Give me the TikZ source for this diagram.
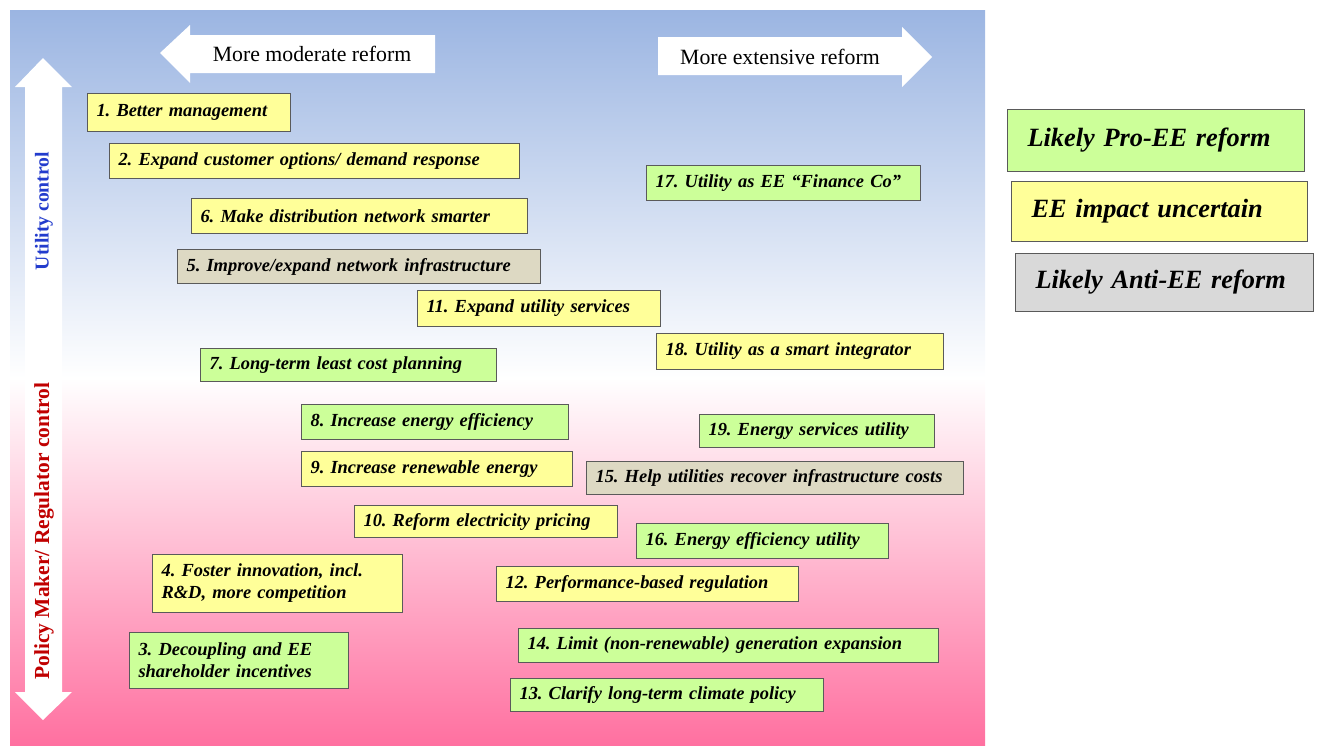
\documentclass[tikz,border=0pt]{standalone}
\usepackage{fontspec}
\setmainfont{Liberation Serif}
\usetikzlibrary{positioning}
\frenchspacing

\definecolor{skyBlue}{RGB}{155,181,226}
\definecolor{rosePink}{RGB}{255,112,160}
\definecolor{proGreen}{RGB}{204,255,153}
\definecolor{unsureYellow}{RGB}{255,255,153}
\definecolor{infraGray}{RGB}{221,217,195}
\definecolor{antiGray}{RGB}{217,217,217}
\definecolor{boxLine}{RGB}{90,90,90}
\definecolor{utilBlue}{RGB}{35,60,205}
\definecolor{policyRed}{RGB}{192,0,0}

\tikzset{
  reform/.style={draw=boxLine, line width=0.6pt, anchor=north west, align=left,
    inner xsep=0.18cm, inner ysep=0pt,
    font=\fontsize{10.5}{12.5}\selectfont\bfseries\itshape},
  pro/.style={reform, fill=proGreen},
  unsure/.style={reform, fill=unsureYellow},
  anti/.style={reform, fill=infraGray},
  key/.style={draw=boxLine, line width=0.6pt, anchor=north west, align=left,
    inner xsep=0.4cm, inner ysep=0pt,
    font=\fontsize{15}{18}\selectfont\bfseries\itshape},
  axis/.style={font=\fontsize{12.4}{14}\selectfont},
  side/.style={rotate=90, font=\fontsize{#1}{14}\selectfont\bfseries}
}

\begin{document}
\begin{tikzpicture}[x=0.02cm, y=-0.02cm]
  \useasboundingbox (0,0) rectangle (1320,747);

  % background
  \shade[top color=skyBlue, bottom color=white] (10,10) rectangle (985,378);
  \shade[top color=white, bottom color=rosePink] (10,378) rectangle (985,745);

  % direction arrows
  \fill[white] (160,53) -- (190,25) -- (190,35) -- (435,35) -- (435,73)
    -- (190,73) -- (190,83) -- cycle;
  \fill[white] (658,37) -- (902,37) -- (902,27) -- (932,57) -- (902,87)
    -- (902,75) -- (658,75) -- cycle;
  \fill[white] (43,58) -- (72,87) -- (62,87) -- (62,692) -- (72,692) -- (43,720)
    -- (15,692) -- (25,692) -- (25,87) -- (15,87) -- cycle;
  \node[axis] (moderate) at (312,54) {More moderate reform};
  \node[axis] (extensive) at (780,57) {More extensive reform};
  \node[side=11.2, text=utilBlue] (utility) at (44,211) {Utility control};
  \node[side=12.2, text=policyRed] (policy) at (44,531) {Policy Maker/ Regulator control};

  % reforms
  \node[unsure, text width=3.70cm, minimum height=0.76cm] (r1) at (87,93) {1. Better management};
  \node[unsure, text width=7.84cm, minimum height=0.70cm] (r2) at (109,143) {2. Expand customer options/ demand response};
  \node[unsure, text width=6.36cm, minimum height=0.70cm] (r6) at (191,198) {6. Make distribution network smarter};
  \node[anti, text width=6.90cm, minimum height=0.68cm] (r5) at (177,249) {5. Improve/expand network infrastructure};
  \node[unsure, text width=4.50cm, minimum height=0.72cm] (r11) at (417,290) {11. Expand utility services};
  \node[pro, text width=5.12cm, minimum height=0.70cm] (r17) at (646,165) {17. Utility as EE “Finance Co”};
  \node[unsure, text width=5.38cm, minimum height=0.72cm] (r18) at (656,333) {18. Utility as a smart integrator};
  \node[pro, text width=5.56cm, minimum height=0.66cm] (r7) at (200,348) {7. Long-term least cost planning};
  \node[pro, text width=4.98cm, minimum height=0.70cm] (r8) at (301,404) {8. Increase energy efficiency};
  \node[pro, text width=4.34cm, minimum height=0.66cm] (r19) at (699,414) {19. Energy services utility};
  \node[unsure, text width=5.06cm, minimum height=0.70cm] (r9) at (301,451) {9. Increase renewable energy};
  \node[anti, text width=7.18cm, minimum height=0.66cm] (r15) at (586,461) {15. Help utilities recover infrastructure costs};
  \node[unsure, text width=4.90cm, minimum height=0.64cm] (r10) at (354,505) {10. Reform electricity pricing};
  \node[pro, text width=4.68cm, minimum height=0.70cm] (r16) at (636,523) {16. Energy efficiency utility};
  \node[unsure, text width=4.64cm, minimum height=1.16cm] (r4) at (152,554) {4. Foster innovation, incl.\\R\&D, more competition};
  \node[unsure, text width=5.68cm, minimum height=0.70cm] (r12) at (496,566) {12. Performance-based regulation};
  \node[pro, text width=4.02cm, minimum height=1.12cm] (r3) at (129,632) {3. Decoupling and EE\\shareholder incentives};
  \node[pro, text width=8.04cm, minimum height=0.68cm] (r14) at (518,628) {14. Limit (non-renewable) generation expansion};
  \node[pro, text width=5.90cm, minimum height=0.66cm] (r13) at (510,678) {13. Clarify long-term climate policy};

  % legend
  \node[key, fill=proGreen, text width=5.14cm, minimum height=1.24cm] (l1) at (1007,109) {Likely Pro-EE reform};
  \node[key, fill=unsureYellow, text width=5.12cm, minimum height=1.20cm] (l2) at (1011,181) {EE impact uncertain};
  \node[key, fill=antiGray, text width=5.16cm, minimum height=1.16cm] (l3) at (1015,253) {Likely Anti-EE reform};
\end{tikzpicture}
\end{document}
